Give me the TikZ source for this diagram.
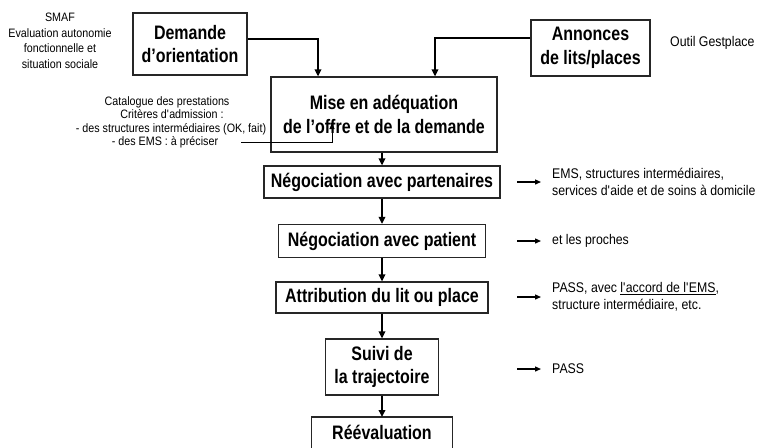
\documentclass[tikz,border=0pt]{standalone}
\usepackage{fontspec}
\setmainfont{Liberation Sans}[FakeStretch=0.88]
\newfontfamily\boxfont{Liberation Sans}[FakeStretch=0.82]
\usetikzlibrary{arrows.meta}
\begin{document}
\begin{tikzpicture}[x=1pt,y=-1pt,line join=miter,
  stepbox/.style={draw=black!85, line width=1.2pt, fill=white, align=center, inner sep=0pt,
    font=\boxfont\fontsize{19.5}{23.5}\selectfont\bfseries},
  boxline/.style={draw=black!85, line width=1.2pt},
  note/.style={inner sep=0pt, font=\fontsize{12.2}{15.5}\selectfont, align=center},
  side/.style={inner sep=0pt, font=\fontsize{14}{16.5}\selectfont, align=left, anchor=west},
  feedarr/.style={line width=2.4pt, -{Triangle[length=7pt,width=6.5pt]}},
  flowarr/.style={line width=2pt, -{Triangle[length=7pt,width=6.5pt]}},
  sidearr/.style={line width=1.3pt, -{Triangle[length=6pt,width=5pt]}},
  thinarr/.style={line width=0.9pt, -{Triangle[length=6pt,width=5pt]}}]
\useasboundingbox (0,0) rectangle (759,447);
% left notes
\node[note] (smaf) at (60,41) {SMAF\\Evaluation autonomie\\fonctionnelle et\\situation sociale};
\node[note] (cat1) at (167,102) {Catalogue des prestations};
\node[note] (cat2) at (172,114) {Critères d\textquotesingle admission :};
\node[note] (cat3) at (171,129) {- des structures intermédiaires (OK, fait)};
\node[note] (cat4) at (165,142) {- des EMS : à préciser};
% boxes
\node[stepbox, minimum width=114, minimum height=62] (dem) at (190,44) {Demande\\d’orientation};
\node[stepbox, minimum width=119, minimum height=56] (ann) at (590.5,48) {Annonces\\de lits/places};
\node[side] (outil) at (670,43) {Outil Gestplace};
\node[stepbox, minimum width=226, minimum height=75] (mise) at (384,114.5) {Mise en adéquation\\de l’offre et de la demande};
\node[stepbox, minimum width=236, minimum height=32] (np) at (382,182) {Négociation avec partenaires};
\node[stepbox, minimum width=207, minimum height=33] (npat) at (382,241) {Négociation avec patient};
\node[stepbox, minimum width=212, minimum height=31] (attr) at (382,297.5) {Attribution du lit ou place};
\node[stepbox, minimum width=113, minimum height=56] (suivi) at (382,367) {Suivi de\\la trajectoire};
\node[stepbox, draw=none, fill=none, minimum width=140, minimum height=30, anchor=north] (ree) at (382,417) {Réévaluation};
\draw[boxline] ([yshift=-20pt]ree.south west) |- (ree.north east) -- ([yshift=-20pt]ree.south east);
% right notes
\node[side] (t1) at (552,182) {EMS, structures intermédiaires,\\services d\textquotesingle aide et de soins à domicile};
\node[side] (t2) at (552,241) {et les proches};
\node[side] (t3) at (552,297) {PASS, avec \underline{l\textquotesingle accord de l\textquotesingle EMS},\\structure intermédiaire, etc.};
\node[side] (t4) at (552,369) {PASS};
% connectors
\coordinate (demj) at (318,39);
\coordinate (annj) at (435,38);
\draw[feedarr] (dem.east |- demj) -| (demj |- mise.north);
\draw[feedarr] (ann.west |- annj) -| (annj |- mise.north);
\coordinate (catstart) at (241,142);
\coordinate (catend) at (332,123);
\draw[thinarr] (catstart) -| (catend);
\draw[flowarr] (mise.south -| np.north) -- (np.north);
\draw[flowarr] (np.south) -- (npat.north);
\draw[flowarr] (npat.south) -- (attr.north);
\draw[flowarr] (attr.south) -- (suivi.north);
\draw[flowarr] (suivi.south) -- (ree.north);
\foreach \t in {t1,t2,t3,t4}
  \draw[sidearr] ([xshift=-35pt]\t.west) -- ([xshift=-11pt]\t.west);
\end{tikzpicture}
\end{document}
